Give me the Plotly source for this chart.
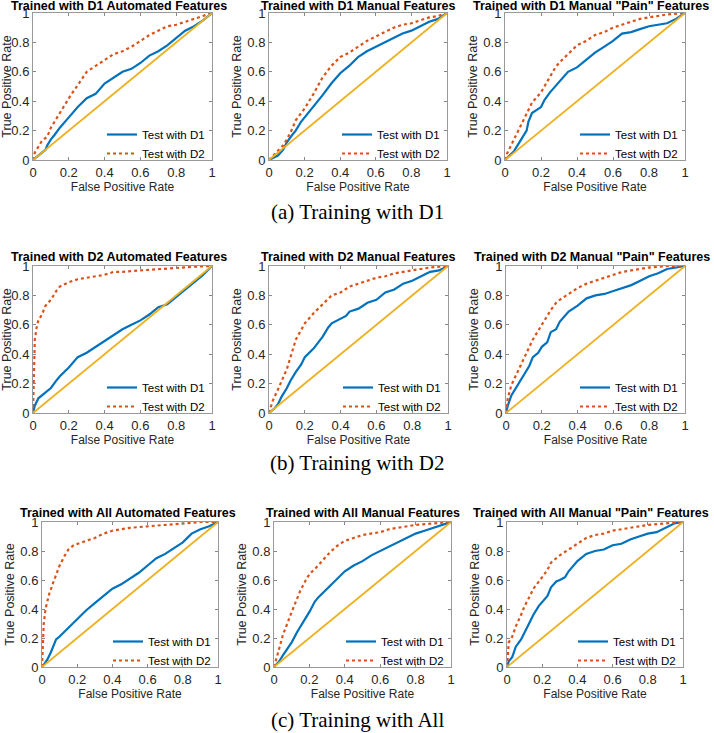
import plotly.graph_objects as go
from plotly.subplots import make_subplots

# ROC curves (fpr, tpr), one list per curve
d1_auto_t1 = [(0, 0), (0.07, 0.07), (0.08, 0.1), (0.1, 0.14), (0.12, 0.17), (0.15, 0.22), (0.2, 0.29), (0.25, 0.36),
              (0.3, 0.42), (0.35, 0.45), (0.4, 0.52), (0.45, 0.56), (0.5, 0.6), (0.55, 0.62), (0.6, 0.66), (0.65, 0.71),
              (0.7, 0.74), (0.75, 0.78), (0.8, 0.83), (0.85, 0.88), (0.9, 0.91), (0.95, 0.95), (1, 1)]
d1_auto_t2 = [(0, 0), (0.01, 0.05), (0.05, 0.13), (0.08, 0.16), (0.1, 0.22), (0.15, 0.32), (0.2, 0.42), (0.25, 0.51),
              (0.3, 0.6), (0.35, 0.64), (0.4, 0.68), (0.45, 0.72), (0.5, 0.74), (0.55, 0.77), (0.6, 0.81), (0.65, 0.85),
              (0.7, 0.88), (0.75, 0.91), (0.8, 0.92), (0.85, 0.94), (0.9, 0.96), (0.95, 0.98), (1, 1)]
d1_man_t1 = [(0, 0), (0.05, 0.03), (0.08, 0.07), (0.1, 0.12), (0.13, 0.17), (0.15, 0.2), (0.18, 0.26), (0.2, 0.29),
             (0.25, 0.36), (0.3, 0.44), (0.35, 0.52), (0.4, 0.59), (0.45, 0.64), (0.5, 0.7), (0.55, 0.74), (0.6, 0.77),
             (0.65, 0.8), (0.7, 0.83), (0.75, 0.86), (0.8, 0.88), (0.85, 0.91), (0.9, 0.94), (0.95, 0.96), (1, 1)]
d1_man_t2 = [(0, 0), (0.05, 0.06), (0.08, 0.1), (0.1, 0.14), (0.13, 0.21), (0.15, 0.27), (0.2, 0.35), (0.25, 0.45),
             (0.3, 0.56), (0.35, 0.64), (0.4, 0.7), (0.45, 0.73), (0.5, 0.77), (0.55, 0.81), (0.6, 0.84), (0.65, 0.87),
             (0.7, 0.9), (0.75, 0.92), (0.8, 0.93), (0.85, 0.95), (0.9, 0.97), (0.95, 0.98), (1, 1)]
d1_pain_t1 = [(0, 0), (0.05, 0.06), (0.08, 0.12), (0.1, 0.16), (0.12, 0.2), (0.13, 0.26), (0.15, 0.32), (0.2, 0.36),
              (0.22, 0.41), (0.25, 0.46), (0.3, 0.53), (0.35, 0.6), (0.4, 0.63), (0.45, 0.68), (0.5, 0.73), (0.55, 0.77),
              (0.6, 0.81), (0.65, 0.86), (0.7, 0.87), (0.75, 0.89), (0.8, 0.91), (0.85, 0.92), (0.9, 0.93),
              (0.95, 0.96), (1, 1)]
d1_pain_t2 = [(0, 0), (0.01, 0.04), (0.05, 0.14), (0.1, 0.27), (0.15, 0.39), (0.2, 0.46), (0.25, 0.57), (0.28, 0.63),
              (0.3, 0.66), (0.35, 0.72), (0.4, 0.78), (0.45, 0.81), (0.5, 0.85), (0.55, 0.87), (0.6, 0.9), (0.65, 0.92),
              (0.7, 0.94), (0.75, 0.96), (0.8, 0.97), (0.85, 0.98), (0.9, 0.99), (1, 1)]

d2_auto_t1 = [(0, 0), (0.01, 0.05), (0.03, 0.1), (0.06, 0.13), (0.08, 0.15), (0.1, 0.17), (0.13, 0.22), (0.15, 0.25),
              (0.2, 0.31), (0.25, 0.38), (0.3, 0.41), (0.35, 0.45), (0.4, 0.49), (0.45, 0.53), (0.5, 0.57), (0.55, 0.6),
              (0.6, 0.63), (0.65, 0.67), (0.7, 0.72), (0.75, 0.74), (0.8, 0.79), (0.85, 0.84), (0.9, 0.89),
              (0.95, 0.94), (1, 1)]
d2_auto_t2 = [(0, 0), (0.005, 0.3), (0.01, 0.5), (0.02, 0.58), (0.03, 0.63), (0.05, 0.67), (0.07, 0.73), (0.1, 0.77),
              (0.13, 0.83), (0.15, 0.86), (0.2, 0.89), (0.25, 0.91), (0.3, 0.92), (0.4, 0.94), (0.45, 0.96),
              (0.5, 0.96), (0.6, 0.97), (0.7, 0.98), (0.8, 0.99), (0.9, 0.995), (1, 1)]
d2_man_t1 = [(0, 0), (0.03, 0.03), (0.05, 0.06), (0.07, 0.11), (0.1, 0.17), (0.12, 0.22), (0.15, 0.28), (0.18, 0.33),
             (0.2, 0.38), (0.25, 0.44), (0.3, 0.52), (0.33, 0.58), (0.35, 0.61), (0.4, 0.64), (0.43, 0.66),
             (0.45, 0.69), (0.5, 0.71), (0.55, 0.75), (0.6, 0.77), (0.65, 0.82), (0.7, 0.84), (0.75, 0.88), (0.8, 0.9),
             (0.85, 0.93), (0.9, 0.96), (0.95, 0.97), (1, 1)]
d2_man_t2 = [(0, 0), (0.02, 0.08), (0.05, 0.16), (0.08, 0.24), (0.1, 0.3), (0.13, 0.42), (0.15, 0.5), (0.2, 0.61),
             (0.25, 0.68), (0.3, 0.74), (0.35, 0.8), (0.4, 0.82), (0.45, 0.86), (0.5, 0.88), (0.55, 0.9), (0.6, 0.92),
             (0.65, 0.93), (0.7, 0.95), (0.75, 0.96), (0.8, 0.97), (0.85, 0.98), (0.9, 0.99), (1, 1)]
d2_pain_t1 = [(0, 0), (0.01, 0.05), (0.03, 0.12), (0.05, 0.16), (0.08, 0.22), (0.1, 0.26), (0.13, 0.32), (0.15, 0.38),
              (0.18, 0.41), (0.2, 0.45), (0.23, 0.48), (0.25, 0.55), (0.28, 0.57), (0.3, 0.62), (0.33, 0.66),
              (0.35, 0.69), (0.4, 0.73), (0.45, 0.78), (0.5, 0.8), (0.55, 0.81), (0.6, 0.83), (0.65, 0.85), (0.7, 0.87),
              (0.75, 0.9), (0.8, 0.93), (0.85, 0.95), (0.9, 0.98), (0.95, 0.99), (1, 1)]
d2_pain_t2 = [(0, 0), (0.01, 0.1), (0.03, 0.19), (0.05, 0.24), (0.1, 0.37), (0.15, 0.5), (0.2, 0.6), (0.25, 0.7),
              (0.28, 0.75), (0.3, 0.77), (0.35, 0.81), (0.4, 0.85), (0.45, 0.88), (0.5, 0.9), (0.55, 0.92), (0.6, 0.94),
              (0.65, 0.96), (0.7, 0.97), (0.75, 0.98), (0.8, 0.99), (0.9, 1), (1, 1)]

all_auto_t1 = [(0, 0), (0.03, 0.05), (0.05, 0.1), (0.08, 0.19), (0.1, 0.21), (0.15, 0.27), (0.2, 0.33), (0.25, 0.39),
               (0.3, 0.44), (0.35, 0.49), (0.4, 0.54), (0.45, 0.57), (0.5, 0.61), (0.55, 0.65), (0.6, 0.7),
               (0.65, 0.75), (0.7, 0.78), (0.75, 0.82), (0.8, 0.86), (0.85, 0.92), (0.9, 0.95), (0.95, 0.97), (1, 1)]
all_auto_t2 = [(0, 0), (0.005, 0.2), (0.01, 0.3), (0.02, 0.4), (0.04, 0.5), (0.06, 0.57), (0.08, 0.63), (0.1, 0.7),
               (0.13, 0.77), (0.15, 0.81), (0.18, 0.84), (0.2, 0.85), (0.25, 0.87), (0.3, 0.89), (0.35, 0.92),
               (0.4, 0.94), (0.5, 0.96), (0.6, 0.97), (0.7, 0.98), (0.8, 0.99), (0.9, 1), (1, 1)]
all_man_t1 = [(0, 0), (0.03, 0.04), (0.05, 0.08), (0.08, 0.13), (0.1, 0.17), (0.13, 0.24), (0.15, 0.28), (0.18, 0.34),
              (0.2, 0.38), (0.23, 0.45), (0.25, 0.48), (0.3, 0.54), (0.35, 0.6), (0.4, 0.66), (0.45, 0.7), (0.5, 0.73),
              (0.55, 0.77), (0.6, 0.8), (0.65, 0.83), (0.7, 0.86), (0.75, 0.89), (0.8, 0.92), (0.85, 0.94),
              (0.9, 0.96), (0.95, 0.98), (1, 1)]
all_man_t2 = [(0, 0), (0.01, 0.05), (0.03, 0.13), (0.05, 0.22), (0.08, 0.32), (0.1, 0.38), (0.13, 0.47), (0.15, 0.53),
              (0.18, 0.6), (0.2, 0.64), (0.25, 0.7), (0.3, 0.77), (0.35, 0.83), (0.4, 0.87), (0.45, 0.89), (0.5, 0.91),
              (0.6, 0.93), (0.65, 0.95), (0.7, 0.96), (0.8, 0.98), (0.9, 0.99), (1, 1)]
all_pain_t1 = [(0, 0), (0.01, 0.04), (0.03, 0.07), (0.05, 0.14), (0.08, 0.19), (0.1, 0.24), (0.13, 0.32),
               (0.15, 0.36), (0.18, 0.42), (0.2, 0.45), (0.23, 0.49), (0.25, 0.55), (0.28, 0.59), (0.3, 0.6),
               (0.33, 0.62), (0.35, 0.66), (0.4, 0.73), (0.45, 0.78), (0.5, 0.8), (0.55, 0.81), (0.6, 0.84),
               (0.65, 0.85), (0.7, 0.88), (0.75, 0.9), (0.8, 0.92), (0.85, 0.93), (0.9, 0.96), (0.95, 0.99), (1, 1)]
all_pain_t2 = [(0, 0), (0.005, 0.1), (0.01, 0.17), (0.03, 0.21), (0.05, 0.28), (0.08, 0.36), (0.1, 0.42),
               (0.13, 0.49), (0.15, 0.54), (0.2, 0.62), (0.23, 0.67), (0.25, 0.72), (0.28, 0.75), (0.3, 0.77),
               (0.35, 0.81), (0.4, 0.85), (0.45, 0.89), (0.5, 0.91), (0.55, 0.92), (0.6, 0.94), (0.7, 0.96),
               (0.8, 0.98), (0.9, 0.99), (1, 1)]

titles = ["Trained with D1 Automated Features", "Trained with D1 Manual Features",
          'Trained with D1 Manual "Pain" Features',
          "Trained with D2 Automated Features", "Trained with D2 Manual Features",
          'Trained with D2 Manual "Pain" Features',
          "Trained with All Automated Features", "Trained with All Manual Features",
          'Trained with All Manual "Pain" Features']
curves = [(d1_auto_t1, d1_auto_t2), (d1_man_t1, d1_man_t2), (d1_pain_t1, d1_pain_t2),
          (d2_auto_t1, d2_auto_t2), (d2_man_t1, d2_man_t2), (d2_pain_t1, d2_pain_t2),
          (all_auto_t1, all_auto_t2), (all_man_t1, all_man_t2), (all_pain_t1, all_pain_t2)]
captions = ["(a) Training with D1", "(b) Training with D2", "(c) Training with All"]
diag = [0, 1]
ticks = [0, 0.2, 0.4, 0.6, 0.8, 1]

W, H = 714, 733
# pixel boxes of each axes (left, right, top, bottom)
boxes = [(33, 212, 13, 160), (269, 447, 13, 160), (505, 685, 13, 160),
         (33, 212, 266, 413), (269, 448, 266, 413), (506, 685, 266, 413),
         (42, 218, 522, 667), (274, 451, 522, 667), (507, 683, 522, 667)]
title_shift = [-4, 0, -4, -4, 0, -4, -2, 0, -4]
title_lift = [-2, 0, 0]
caption_y = [212, 463, 720]

BLUE, RED, YEL = "#0072BD", "#D95319", "#EDB120"
FONT = "Liberation Sans, Arial, sans-serif"

fig = make_subplots(rows=3, cols=3)
annotations = []
for i, (t1, t2) in enumerate(curves):
    r, c = i // 3 + 1, i % 3 + 1
    leg = "legend" if i == 0 else f"legend{i + 1}"
    fig.add_trace(go.Scatter(x=[p[0] for p in t1], y=[p[1] for p in t1], mode="lines", name="Test with D1",
                             line=dict(color=BLUE, width=2.2), legend=leg), row=r, col=c)
    fig.add_trace(go.Scatter(x=[p[0] for p in t2], y=[p[1] for p in t2], mode="lines", name="Test with D2",
                             line=dict(color=RED, width=2.2, dash="dot"), legend=leg), row=r, col=c)
    fig.add_trace(go.Scatter(x=diag, y=diag, mode="lines", showlegend=False,
                             line=dict(color=YEL, width=1.8)), row=r, col=c)

    left, right, top, bottom = boxes[i]
    xd = [left / W, right / W]
    yd = [1 - bottom / H, 1 - top / H]
    axis_common = dict(range=[0, 1], tickvals=ticks, ticktext=["0", "0.2", "0.4", "0.6", "0.8", "1"],
                       ticks="inside", ticklen=3, tickcolor="#888", showline=True, linecolor="#999",
                       linewidth=1, mirror="allticks", showgrid=False, zeroline=False, automargin=False,
                       tickfont=dict(size=13, color="#262626", family=FONT))
    fig.update_xaxes(domain=xd, title=dict(text="False Positive Rate", standoff=3,
                                           font=dict(size=12, color="#262626", family=FONT)),
                     **axis_common, row=r, col=c)
    fig.update_yaxes(domain=yd, title=dict(text="True Positive Rate", standoff=2,
                                           font=dict(size=12.5, color="#262626", family=FONT)),
                     **axis_common, row=r, col=c)
    fig.update_layout({leg: dict(x=xd[1] - 2 / W, y=yd[0] - 8 / H, xanchor="right", yanchor="bottom",
                                 bgcolor="rgba(0,0,0,0)", font=dict(size=11.5, color="#000", family=FONT),
                                 itemwidth=30, tracegroupgap=0)})
    annotations.append(dict(text=f"<b>{titles[i]}</b>", x=(xd[0] + xd[1]) / 2, y=yd[1], xref="paper",
                            yref="paper", xanchor="center", yanchor="bottom", yshift=title_lift[r - 1],
                            xshift=title_shift[i], showarrow=False,
                            font=dict(size=12.5, color="#000", family=FONT)))

for k, cap in enumerate(captions):
    annotations.append(dict(text=cap, x=0.5, y=1 - caption_y[k] / H, xref="paper", yref="paper",
                            xanchor="center", yanchor="middle", showarrow=False,
                            font=dict(size=21, color="#000", family="Liberation Serif, DejaVu Serif, serif")))

fig.update_layout(width=W, height=H, margin=dict(l=0, r=0, t=0, b=0), plot_bgcolor="white",
                  paper_bgcolor="white", annotations=annotations)
fig.write_html("out.html", config={"displayModeBar": False},
               post_script="document.body.style.margin='0px';")
